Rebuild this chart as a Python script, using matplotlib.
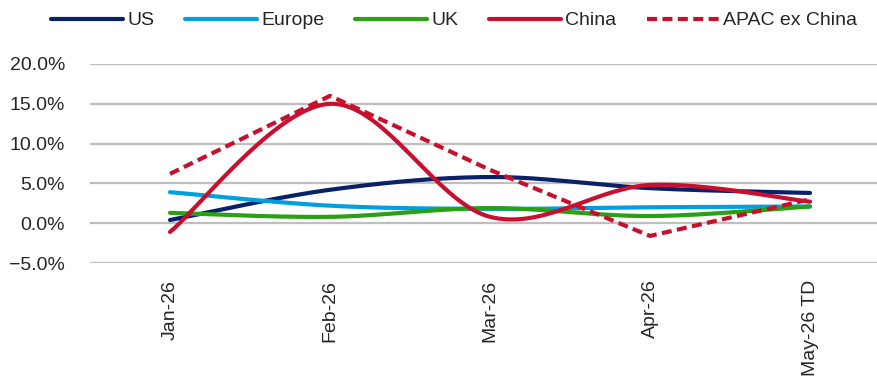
import numpy as np
import matplotlib
matplotlib.use('Agg')
import matplotlib.pyplot as plt
from matplotlib.ticker import PercentFormatter

months = ['Jan-26', 'Feb-26', 'Mar-26', 'Apr-26', 'May-26 TD']
us = [0.4, 4.2, 5.8, 4.4, 3.8]
europe = [3.9, 2.2, 1.8, 2.0, 2.1]
uk = [1.3, 0.8, 1.9, 0.9, 2.1]
china = [-1.1, 15.0, 0.8, 4.8, 2.7]
apac = [6.2, 16.0, 6.7, -1.6, 3.0]


def smooth(y, n=40):
    # excel style smoothed line (catmull-rom bezier)
    y = np.asarray(y, dtype=float)
    x = np.arange(len(y), dtype=float)
    pts = np.column_stack([x, y])
    out = []
    for i in range(len(pts) - 1):
        p0 = pts[max(i - 1, 0)]
        p1 = pts[i]
        p2 = pts[i + 1]
        p3 = pts[min(i + 2, len(pts) - 1)]
        c1 = p1 + (p2 - p0) / 6
        c2 = p2 - (p3 - p1) / 6
        t = np.linspace(0, 1, n)[:, None]
        seg = ((1 - t) ** 3) * p1 + 3 * ((1 - t) ** 2) * t * c1 + 3 * (1 - t) * t ** 2 * c2 + t ** 3 * p2
        out.append(seg if i == 0 else seg[1:])
    out = np.vstack(out)
    return out[:, 0], out[:, 1]


plt.rcParams['font.family'] = ['Liberation Sans', 'DejaVu Sans']
txt = '#262626'

fig = plt.figure(figsize=(8.77, 3.77), dpi=100)
ax = fig.add_axes([90 / 877, 1 - 263 / 377, 800 / 877, 199 / 377])

series = [('US', us, '#0a2169', '-', True),
          ('Europe', europe, '#00a0e0', '-', True),
          ('UK', uk, '#2aa012', '-', True),
          ('China', china, '#c8102e', '-', True),
          ('APAC ex China', apac, '#c8102e', '--', False)]

for name, vals, col, ls, sm in series:
    if sm:
        xs, ys = smooth(vals)
    else:
        xs, ys = np.arange(len(vals)), vals
    ax.plot(xs, ys, color=col, ls=ls, lw=3.0, label=name, solid_capstyle='round',
            dashes=(2.4, 1.3) if ls == '--' else (None, None), zorder=3)

ax.set_xlim(-0.5, 4.5)
ax.set_ylim(-5, 20)
ax.set_yticks([-5, 0, 5, 10, 15, 20])
ax.yaxis.set_major_formatter(PercentFormatter(decimals=1))
ax.grid(axis='y', color='#bfbfbf', lw=1.6, zorder=0)
ax.axhline(0, color='black', lw=1.2, zorder=1)
ax.set_xticks(range(len(months)))
ax.set_xticklabels(months, rotation=90, va='top', ha='center')
for s in ax.spines.values():
    s.set_visible(False)
ax.tick_params(length=0, labelsize=14, colors=txt)
ax.tick_params(axis='y', pad=18)
ax.tick_params(axis='x', pad=12)

leg = fig.legend(loc='upper center', bbox_to_anchor=(0.518, 1.015), ncol=5, frameon=False,
                 fontsize=14, handlelength=3.7, columnspacing=1.6, handletextpad=0.2)
for t in leg.get_texts():
    t.set_color(txt)

fig.savefig('out.png', dpi=100)
